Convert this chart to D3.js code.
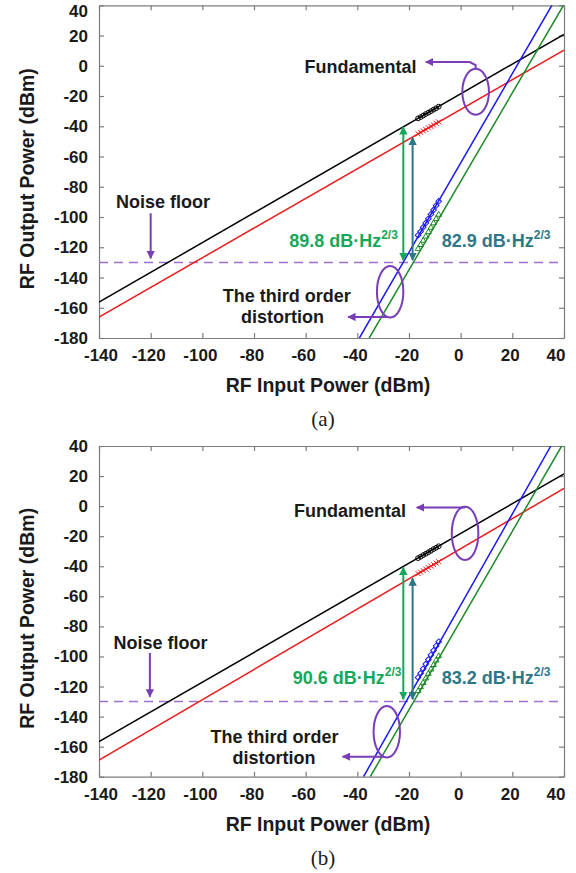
<!DOCTYPE html>
<html>
<head>
<meta charset="utf-8" />
<style>
    body { margin: 0; background: #fff; }
    text { font-family: "Liberation Sans", Arial, sans-serif; font-weight: bold; fill: #1a1a1a; }
    .tick-label { font-size: 17px; }
    .axis-title { font-size: 19.5px; }
    .note { font-size: 18px; }
    .cap { font-family: "Liberation Serif", "Times New Roman", serif; font-weight: normal; font-size: 21px; }
</style>
</head>
<body>
<div id="chart"></div>
<script src="https://d3js.org/d3.v7.min.js"></script>
<script>
    // axis ticks
    var xTicks = [-140, -120, -100, -80, -60, -40, -20, 0, 20, 40];
    var yTicks = [40, 20, 0, -20, -40, -60, -80, -100, -120, -140, -160, -180];

    // measured points (input power, dBm)
    var inputPower = [-16.5, -15.5, -14.5, -13.5, -12.5, -11.5, -10.5, -9.5, -8.5];

    // panel (a)
    var fundBlackA = [-34.8, -33.9, -32.9, -31.9, -31.0, -30.0, -29.0, -28.1, -27.0];
    var fundRedA   = [-45.0, -44.0, -43.0, -42.1, -41.0, -40.1, -39.1, -38.0, -37.1];
    var imdBlueA   = [-112.0, -109.6, -106.8, -104.0, -101.1, -98.2, -95.3, -92.4, -89.6];
    var imdGreenA  = [-121.0, -118.4, -115.6, -112.8, -109.9, -107.0, -104.1, -101.2, -98.4];
    var fitBlackA  = [[-140, -156.3], [40, 20.8]];
    var fitRedA    = [[-140, -166.2], [40, 10.4]];
    var fitBlueA   = [[-39.2, -180], [35.3, 40]];
    var fitGreenA  = [[-35.4, -180], [39.8, 40]];
    var sfdrA      = ['89.8', '82.9'];

    // panel (b)
    var fundBlackB = [-34.6, -33.7, -32.6, -31.7, -30.7, -29.7, -28.6, -27.7, -26.7];
    var fundRedB   = [-44.9, -43.9, -42.9, -41.9, -40.9, -39.9, -38.9, -37.9, -36.9];
    var imdBlueB   = [-114.0, -111.2, -108.2, -105.1, -102.1, -99.0, -96.0, -93.0, -90.2];
    var imdGreenB  = [-123.0, -120.3, -117.5, -114.5, -111.5, -108.6, -105.6, -102.6, -99.8];
    var fitBlackB  = [[-140, -156.7], [40, 21.4]];
    var fitRedB    = [[-140, -168.9], [40, 11.8]];
    var fitBlueB   = [[-37.6, -180], [34.9, 40]];
    var fitGreenB  = [[-35.0, -180], [39.1, 40]];
    var sfdrB      = ['90.6', '83.2'];

    var noiseFloor = -130;

    var W = 576, H = 873;
    var purple = '#7a3db8', green = '#16a85a', teal = '#2e7788';

    var svg = d3.select('#chart').append('svg')
        .attr('width', W).attr('height', H);

    var defs = svg.append('defs');
    function marker(id, color) {
        defs.append('marker')
            .attr('id', id)
            .attr('viewBox', '0 0 10 10')
            .attr('refX', 9).attr('refY', 5)
            .attr('markerWidth', 4.2).attr('markerHeight', 4.2)
            .attr('markerUnits', 'strokeWidth')
            .attr('orient', 'auto-start-reverse')
            .append('path')
            .attr('d', 'M0,0 L10,5 L0,10 z')
            .attr('fill', color);
    }
    marker('arPurple', purple);
    marker('arGreen', green);
    marker('arTeal', teal);

    function drawPanel(p) {
        var x = d3.scaleLinear().domain([-140, 40]).range([99, 564]);
        var y = d3.scaleLinear().domain([-180, 40]).range([p.bottom, p.top]);
        var g = svg.append('g');

        g.append('clipPath').attr('id', 'clip' + p.id)
            .append('rect')
            .attr('x', x(-140)).attr('y', y(40))
            .attr('width', x(40) - x(-140)).attr('height', y(-180) - y(40));

        // frame + inward ticks
        var axCol = '#7d7d7d';
        g.append('g').attr('transform', 'translate(0,' + y(-180) + ')')
            .call(d3.axisBottom(x).tickValues(xTicks).tickSizeInner(-5).tickSizeOuter(0).tickFormat(''));
        g.append('g').attr('transform', 'translate(0,' + y(40) + ')')
            .call(d3.axisTop(x).tickValues(xTicks).tickSizeInner(-5).tickSizeOuter(0).tickFormat(''));
        g.append('g').attr('transform', 'translate(' + x(-140) + ',0)')
            .call(d3.axisLeft(y).tickValues(yTicks).tickSizeInner(-5).tickSizeOuter(0).tickFormat(''));
        g.append('g').attr('transform', 'translate(' + x(40) + ',0)')
            .call(d3.axisRight(y).tickValues(yTicks).tickSizeInner(-5).tickSizeOuter(0).tickFormat(''));
        g.selectAll('.domain, .tick line').attr('stroke', axCol).attr('stroke-width', 1.2);

        g.selectAll('.xl').data(xTicks).enter().append('text')
            .attr('class', 'tick-label')
            .attr('x', function(d) { return x(d) + (d === 40 ? -8 : d === -140 ? 2 : -2); })
            .attr('y', y(-180) + 23)
            .attr('text-anchor', 'middle')
            .text(function(d) { return d; });
        g.selectAll('.yl').data(yTicks).enter().append('text')
            .attr('class', 'tick-label')
            .attr('x', 88)
            .attr('y', function(d) { return Math.max(y(d) + 6, 17); })
            .attr('text-anchor', 'end')
            .text(function(d) { return d; });

        g.append('text').attr('class', 'axis-title')
            .attr('transform', 'translate(34,' + ((p.top + p.bottom) / 2 + 7) + ') rotate(-90)')
            .attr('text-anchor', 'middle')
            .text('RF Output Power (dBm)');
        g.append('text').attr('class', 'axis-title')
            .attr('x', 328).attr('y', y(-180) + 54)
            .attr('text-anchor', 'middle')
            .text('RF Input Power (dBm)');
        g.append('text').attr('class', 'cap')
            .attr('x', 323).attr('y', y(-180) + 88)
            .attr('text-anchor', 'middle')
            .text(p.caption);

        var plot = g.append('g').attr('clip-path', 'url(#clip' + p.id + ')');
        var line = d3.line().x(function(d) { return x(d[0]); }).y(function(d) { return y(d[1]); });

        // noise floor
        plot.append('path')
            .datum([[-140, noiseFloor], [40, noiseFloor]])
            .attr('d', line)
            .attr('stroke', '#9a72cf').attr('stroke-width', 1.5)
            .attr('stroke-dasharray', '9,6').attr('fill', 'none');

        var fits = [[p.fitBlack, '#000'], [p.fitRed, '#ee1c1c'], [p.fitBlue, '#1a1aee'], [p.fitGreen, '#1f8a2a']];
        fits.forEach(function(f) {
            plot.append('path').datum(f[0]).attr('d', line)
                .attr('stroke', f[1]).attr('stroke-width', 1.5).attr('fill', 'none');
        });

        function pts(vals, type, size, color, rot) {
            var sym = d3.symbol().type(type).size(size);
            plot.selectAll(null).data(vals).enter().append('path')
                .attr('d', sym)
                .attr('transform', function(d, i) {
                    return 'translate(' + x(inputPower[i]) + ',' + y(d) + ') rotate(' + (rot || 0) + ')';
                })
                .attr('fill', 'none').attr('stroke', color).attr('stroke-width', 1);
        }
        pts(p.black, d3.symbolCircle, 18, '#000');
        pts(p.red, d3.symbolTimes, 18, '#ee1c1c');
        pts(p.blue, d3.symbolSquare, 16, '#1a1aee', 45);
        pts(p.green, d3.symbolTriangle, 14, '#1f8a2a');

        // double arrows (SFDR)
        function dArrow(xv, y1, y2, color, id) {
            g.append('line')
                .attr('x1', x(xv)).attr('x2', x(xv))
                .attr('y1', y(y1)).attr('y2', y(y2))
                .attr('stroke', color).attr('stroke-width', 2)
                .attr('marker-start', 'url(#' + id + ')')
                .attr('marker-end', 'url(#' + id + ')');
        }
        dArrow(-22.2, p.arrowTopG, -128.5, green, 'arGreen');
        dArrow(-18.6, p.arrowTopT, -128.5, teal, 'arTeal');

        function sfdr(xv, yv, val, color) {
            var t = g.append('text').attr('class', 'note')
                .attr('x', x(xv)).attr('y', y(yv) + 7)
                .style('fill', color)
                .text(val + ' dB\u00b7Hz');
            t.append('tspan').attr('dy', -8).style('font-size', '12px').text('2/3');
        }
        sfdr(p.sfdrPos[0], p.sfdrPos[2], p.sfdr[0], green);
        sfdr(p.sfdrPos[1], p.sfdrPos[2], p.sfdr[1], teal);

        // purple annotations
        function ellipse(c, rx, ry) {
            g.append('ellipse')
                .attr('cx', x(c[0])).attr('cy', y(c[1]))
                .attr('rx', rx).attr('ry', ry)
                .attr('fill', 'none').attr('stroke', purple).attr('stroke-width', 2);
        }
        ellipse(p.fundEll, 13.3, p.fundRy);
        ellipse(p.imdEll, 13.2, 25.8);

        function arrow(pts) {
            g.append('path').datum(pts).attr('d', line)
                .attr('stroke', purple).attr('stroke-width', 2).attr('fill', 'none')
                .attr('marker-end', 'url(#arPurple)');
        }
        arrow(p.fundArrow);
        arrow(p.imdArrow);
        arrow(p.noiseArrow);

        function note(pos, txt) {
            g.append('text').attr('class', 'note')
                .attr('x', x(pos[0])).attr('y', y(pos[1]) + 6.5)
                .attr('text-anchor', 'middle')
                .text(txt);
        }
        note(p.fundText, 'Fundamental');
        note(p.noiseText, 'Noise floor');
        note(p.imdText1, 'The third order');
        note(p.imdText2, 'distortion');
    }

    drawPanel({
        id: 'a', caption: '(a)', top: 5.3, bottom: 338,
        black: fundBlackA, red: fundRedA, blue: imdBlueA, green: imdGreenA,
        fitBlack: fitBlackA, fitRed: fitRedA, fitBlue: fitBlueA, fitGreen: fitGreenA,
        sfdr: sfdrA, sfdrPos: [-66.4, -7.3, -115.5],
        arrowTopG: -40.5, arrowTopT: -47.5,
        fundEll: [5.8, -17.2], fundRy: 23,
        imdEll: [-27.3, -149.4],
        fundArrow: [[5.8, -2.1], [5.8, 0.5], [3.5, 2.5], [-13.5, 2.5]],
        imdArrow: [[-28.6, -166.1], [-43.6, -166.1]],
        noiseArrow: [[-120, -97.5], [-120, -127.3]],
        fundText: [-38.8, -0.6], noiseText: [-115.2, -89.9],
        imdText1: [-67.3, -152.2], imdText2: [-69, -165.5]
    });

    drawPanel({
        id: 'b', caption: '(b)', top: 446, bottom: 776.7,
        black: fundBlackB, red: fundRedB, blue: imdBlueB, green: imdGreenB,
        fitBlack: fitBlackB, fitRed: fitRedB, fitBlue: fitBlueB, fitGreen: fitGreenB,
        sfdr: sfdrB, sfdrPos: [-65.0, -7.3, -114],
        arrowTopG: -40.8, arrowTopT: -48.0,
        fundEll: [1.7, -18.1], fundRy: 26.7,
        imdEll: [-28.6, -150.1],
        fundArrow: [[1.7, -0.9], [-17, -0.9]],
        imdArrow: [[-29.8, -166.7], [-45.7, -166.7]],
        noiseArrow: [[-120.3, -97.7], [-120.3, -126.8]],
        fundText: [-42.8, -2.6], noiseText: [-116.2, -90.9],
        imdText1: [-72.1, -153], imdText2: [-72.3, -167.1]
    });
</script>
</body>
</html>
